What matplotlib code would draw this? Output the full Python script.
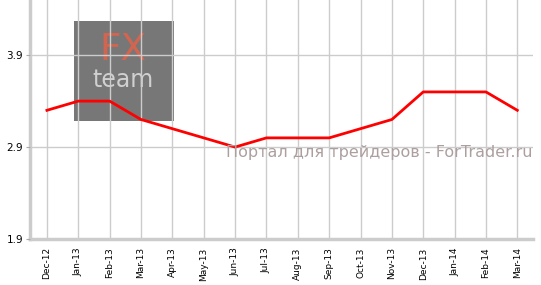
import matplotlib
matplotlib.use("Agg")
import matplotlib.pyplot as plt
from matplotlib.patches import Rectangle

months = ["Dec-12", "Jan-13", "Feb-13", "Mar-13", "Apr-13", "May-13", "Jun-13", "Jul-13",
          "Aug-13", "Sep-13", "Oct-13", "Nov-13", "Dec-13", "Jan-14", "Feb-14", "Mar-14"]
values = [3.3, 3.4, 3.4, 3.2, 3.1, 3.0, 2.9, 3.0, 3.0, 3.0, 3.1, 3.2, 3.5, 3.5, 3.5, 3.3]
yticks = [1.9, 2.9, 3.9]

fig = plt.figure(figsize=(5.41, 2.85), dpi=100)
ax = fig.add_axes([30 / 541, 46 / 285, 503 / 541, 239 / 285])

x = list(range(len(months)))
ax.plot(x, values, color="#ff0000", lw=2, zorder=5)

ax.set_xlim(-0.54, 15.5)
ax.set_ylim(1.9, 4.5)
ax.set_xticks(x)
ax.set_xticklabels(months, rotation=90, fontsize=6.5)
ax.set_yticks(yticks)
ax.set_yticklabels([f"{v:.1f}" for v in yticks], fontsize=7.5)
ax.grid(True, color="#cccccc", lw=1, zorder=3)
ax.set_axisbelow(False)

for s in ["top", "right"]:
    ax.spines[s].set_visible(False)
for s in ["left", "bottom"]:
    ax.spines[s].set_color("#cccccc")
    ax.spines[s].set_linewidth(2.5)
ax.tick_params(axis="x", length=0, pad=6)
ax.tick_params(axis="y", length=3, color="#aaaaaa", pad=2)

# watermark logo box (under the grid and the line)
box = Rectangle((74 / 541, 1 - 121 / 285), 100 / 541, 100 / 285, transform=fig.transFigure,
                facecolor="#777777", edgecolor="none", zorder=1, clip_on=False)
ax.add_patch(box)
ax.text(123 / 541, 1 - 50 / 285, "FX", color="#d2654f", fontsize=27, ha="center", va="center",
        transform=fig.transFigure, zorder=2)
ax.text(123 / 541, 1 - 80 / 285, "team", color="#d0d0d0", fontsize=17, ha="center", va="center",
        transform=fig.transFigure, zorder=2)

fig.text(533 / 541, 1 - 153 / 285, "Портал для трейдеров - ForTrader.ru", color="#ad9f9f",
         fontsize=11.5, ha="right", va="center")

fig.savefig("out.png", dpi=100)
